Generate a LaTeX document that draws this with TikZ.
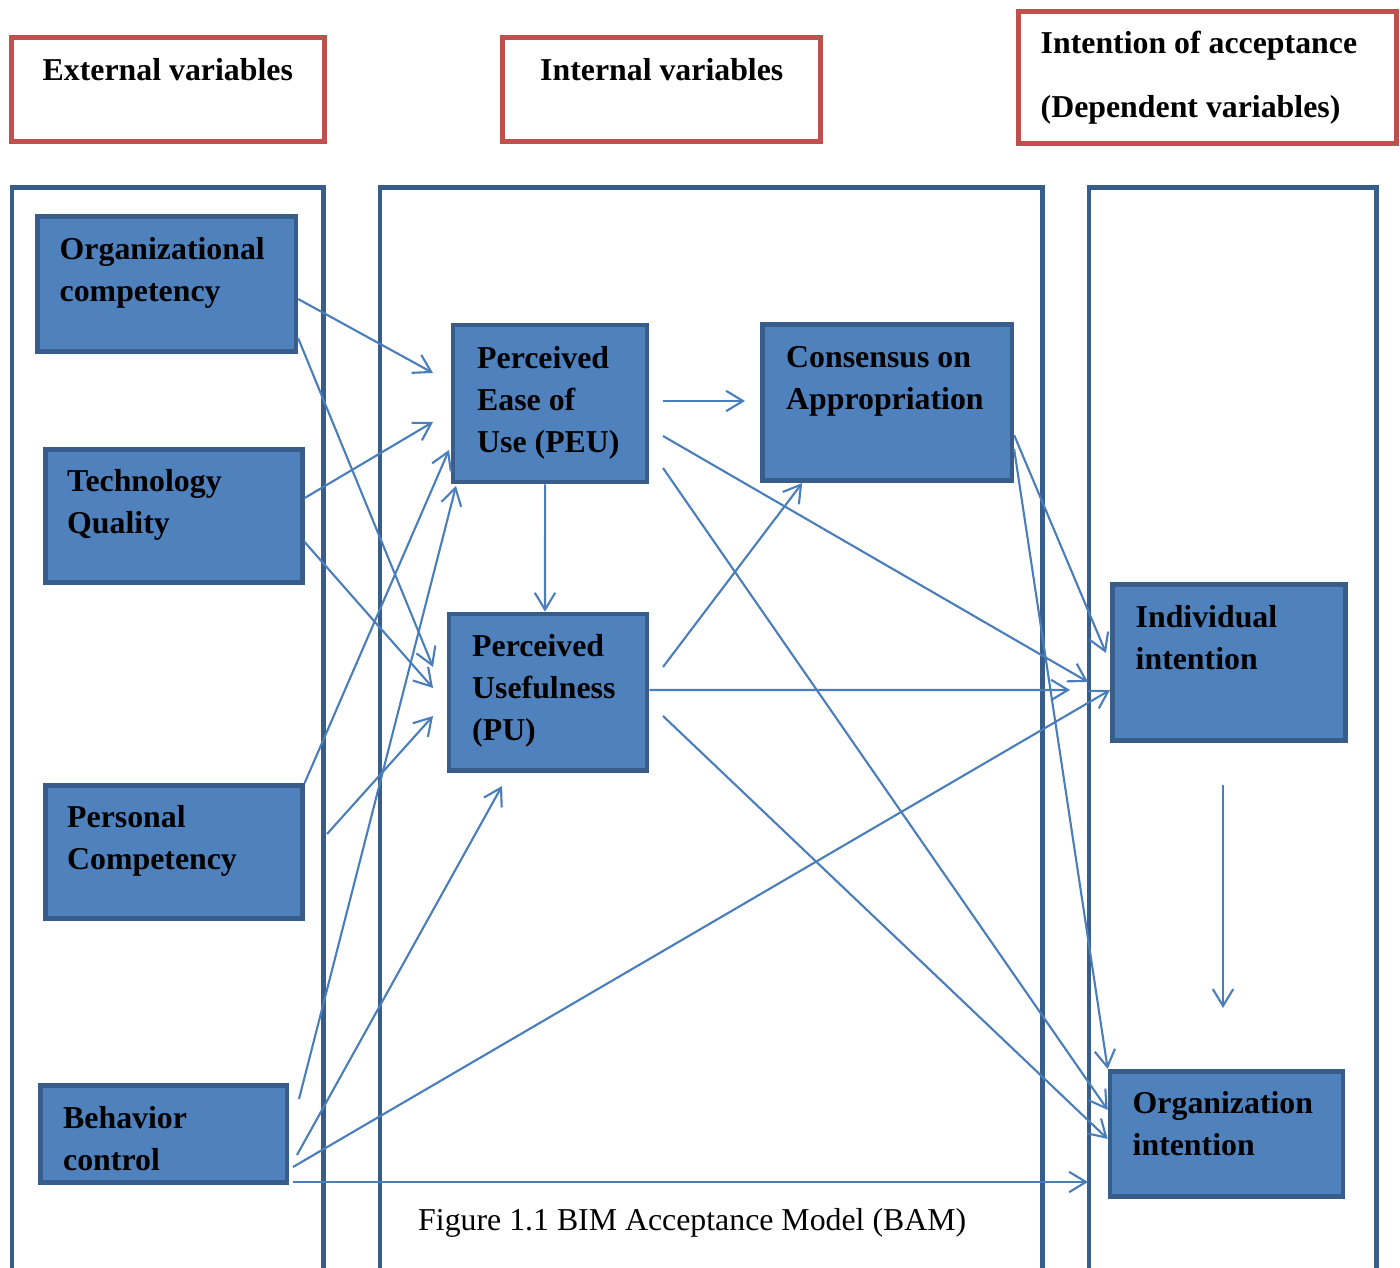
\documentclass[tikz,border=0pt]{standalone}
\usepackage{fontspec}
\setmainfont{Liberation Serif}
\usetikzlibrary{arrows.meta,calc}

\definecolor{hdrred}{HTML}{C0504D}
\definecolor{frameblue}{HTML}{385D8A}
\definecolor{boxfill}{HTML}{4F81BD}
\definecolor{linkblue}{HTML}{4A7EBB}

% fixed height of the first text line, so the first baseline sits 8pt below the node top
\newcommand\firstline{\rule{0pt}{8pt}}

\begin{document}
\begin{tikzpicture}[x=0.01cm, y=-0.01cm,
  hdrbox/.style={draw=hdrred, line width=1.4pt, fill=white, inner sep=0pt, anchor=north west},
  column/.style={draw=frameblue, line width=1.4pt},
  varbox/.style={draw=frameblue, fill=boxfill, line width=1.3pt, inner sep=0pt, anchor=north west},
  lbl/.style={anchor=north west, inner sep=0pt, align=left, text=black,
    font=\bfseries\fontsize{9.05pt}{11.95pt}\selectfont},
  caption/.style={anchor=north west, inner sep=0pt, text=black,
    font=\fontsize{9.05pt}{11.95pt}\selectfont},
  link/.style={draw=linkblue, line width=0.6pt,
    -{Straight Barb[length=4.8pt,width=5.8pt]}},
]
\useasboundingbox (0,0) rectangle (1400,1268);

% column frames, open at the bottom
\draw[column] (12,1268) -- (12,187.5) -- (323.5,187.5) -- (323.5,1268);
\draw[column] (380,1268) -- (380,187.5) -- (1042.5,187.5) -- (1042.5,1268);
\draw[column] (1089,1268) -- (1089,187.5) -- (1376.5,187.5) -- (1376.5,1268);

% heading boxes
\node[hdrbox, minimum width=3.126cm, minimum height=1.031cm] (hExt) at (9,35.5) {};
\node[hdrbox, minimum width=3.181cm, minimum height=1.031cm] (hInt) at (500,35.5) {};
\node[hdrbox, minimum width=3.776cm, minimum height=1.311cm] (hDep) at (1016,9.5) {};

% variable boxes
\node[varbox, minimum width=2.584cm, minimum height=1.354cm] (org)  at (35,214) {};
\node[varbox, minimum width=2.569cm, minimum height=1.329cm] (tech) at (43,447) {};
\node[varbox, minimum width=2.569cm, minimum height=1.329cm] (pers) at (43,783) {};
\node[varbox, minimum width=2.464cm, minimum height=0.974cm] (beh)  at (38,1083) {};
\node[varbox, minimum width=1.940cm, minimum height=1.570cm] (peu)  at (450.7,322.7) {};
\node[varbox, minimum width=1.980cm, minimum height=1.564cm] (pu)   at (446.7,611.7) {};
\node[varbox, minimum width=2.494cm, minimum height=1.564cm] (cons) at (760,322) {};
\node[varbox, minimum width=2.331cm, minimum height=1.564cm] (ind)  at (1110,582) {};
\node[varbox, minimum width=2.327cm, minimum height=1.254cm] (oint) at (1107.7,1069) {};

% free arrow ends
\coordinate (e1) at (433,373);
\coordinate (e2) at (433,667);
\coordinate (e3) at (433,422);
\coordinate (e4) at (433,688);
\coordinate (e5) at (449,450);
\coordinate (s6) at (327,834);
\coordinate (e6) at (433,716);
\coordinate (s7) at (299,1099);
\coordinate (e7) at (456,486);
\coordinate (s8) at (297,1155);
\coordinate (e8) at (502,786);
\coordinate (s9) at (293,1167);
\coordinate (s10) at (293,1182);
\coordinate (e10) at (1088,1182);
\coordinate (s11) at (663,401);
\coordinate (e11) at (745,401);
\coordinate (s13) at (663,436);
\coordinate (e13) at (1088,682);
\coordinate (s14) at (663,468);
\coordinate (s15) at (663,667);
\coordinate (e16) at (1070,690);
\coordinate (s17) at (663,716);
\coordinate (e18) at (1106,653);
\coordinate (s20) at (1223,785);
\coordinate (e20) at (1223,1008);

% external variables to internal variables
\draw[link] ($(org.north east)!0.607!(org.south east)$) -- (e1);
\draw[link] ($(org.north east)!0.886!(org.south east)$) -- (e2);
\draw[link] ($(tech.north east)!0.371!(tech.south east)$) -- (e3);
\draw[link] ($(tech.north east)!0.691!(tech.south east)$) -- (e4);
\draw[link] (pers.north east) -- (e5);
\draw[link] (s6) -- (e6);
\draw[link] (s7) -- (e7);
\draw[link] (s8) -- (e8);
\draw[link] (s9) -- ($(ind.north west)!0.671!(ind.south west)$);
\draw[link] (s10) -- (e10);

% internal variables
\draw[link] (s11) -- (e11);
\draw[link] ($(peu.south west)!0.475!(peu.south east)$) -- ($(pu.north west)!0.485!(pu.north east)$);
\draw[link] (s13) -- (e13);
\draw[link] (s14) -- ($(oint.north west)!0.315!(oint.south west)$);
\draw[link] (s15) -- ($(cons.south west)!0.166!(cons.south east)$);
\draw[link] ($(pu.north east)!0.486!(pu.south east)$) -- (e16);
\draw[link] (s17) -- ($(oint.north west)!0.538!(oint.south west)$);
\draw[link] ($(cons.north east)!0.702!(cons.south east)$) -- (e18);
\draw[link] ($(cons.north east)!0.789!(cons.south east)$) -- (oint.north west);

% dependent variables
\draw[link] (s20) -- (e20);

% headings
\node[lbl] (tExt) at (42,51.9) {\firstline External variables};
\node[lbl] (tInt) at (539.5,51.9) {\firstline Internal variables};
\node[lbl, font=\bfseries\fontsize{9.05pt}{18.2pt}\selectfont] (tDep) at (1040,24.9)
  {\firstline Intention of acceptance\\(Dependent variables)};

% box labels
\node[lbl] (orgT)  at (59,230.9)    {\firstline Organizational\\competency};
\node[lbl] (techT) at (66.5,462.9)  {\firstline Technology\\Quality};
\node[lbl] (persT) at (66.5,798.9)  {\firstline Personal\\Competency};
\node[lbl] (behT)  at (62.5,1099.4) {\firstline Behavior\\control};
\node[lbl] (peuT)  at (476.5,339.9) {\firstline Perceived\\Ease of\\Use (PEU)};
\node[lbl] (puT)   at (471.5,627.9) {\firstline Perceived\\Usefulness\\(PU)};
\node[lbl] (consT) at (785.5,338.9) {\firstline Consensus on\\Appropriation};
\node[lbl] (indT)  at (1135,598.4)  {\firstline Individual\\intention};
\node[lbl] (ointT) at (1132,1084.9) {\firstline Organization\\intention};

% caption
\node[caption] (capT) at (417.5,1201.9) {\firstline Figure 1.1 BIM Acceptance Model (BAM)};
\end{tikzpicture}
\end{document}
